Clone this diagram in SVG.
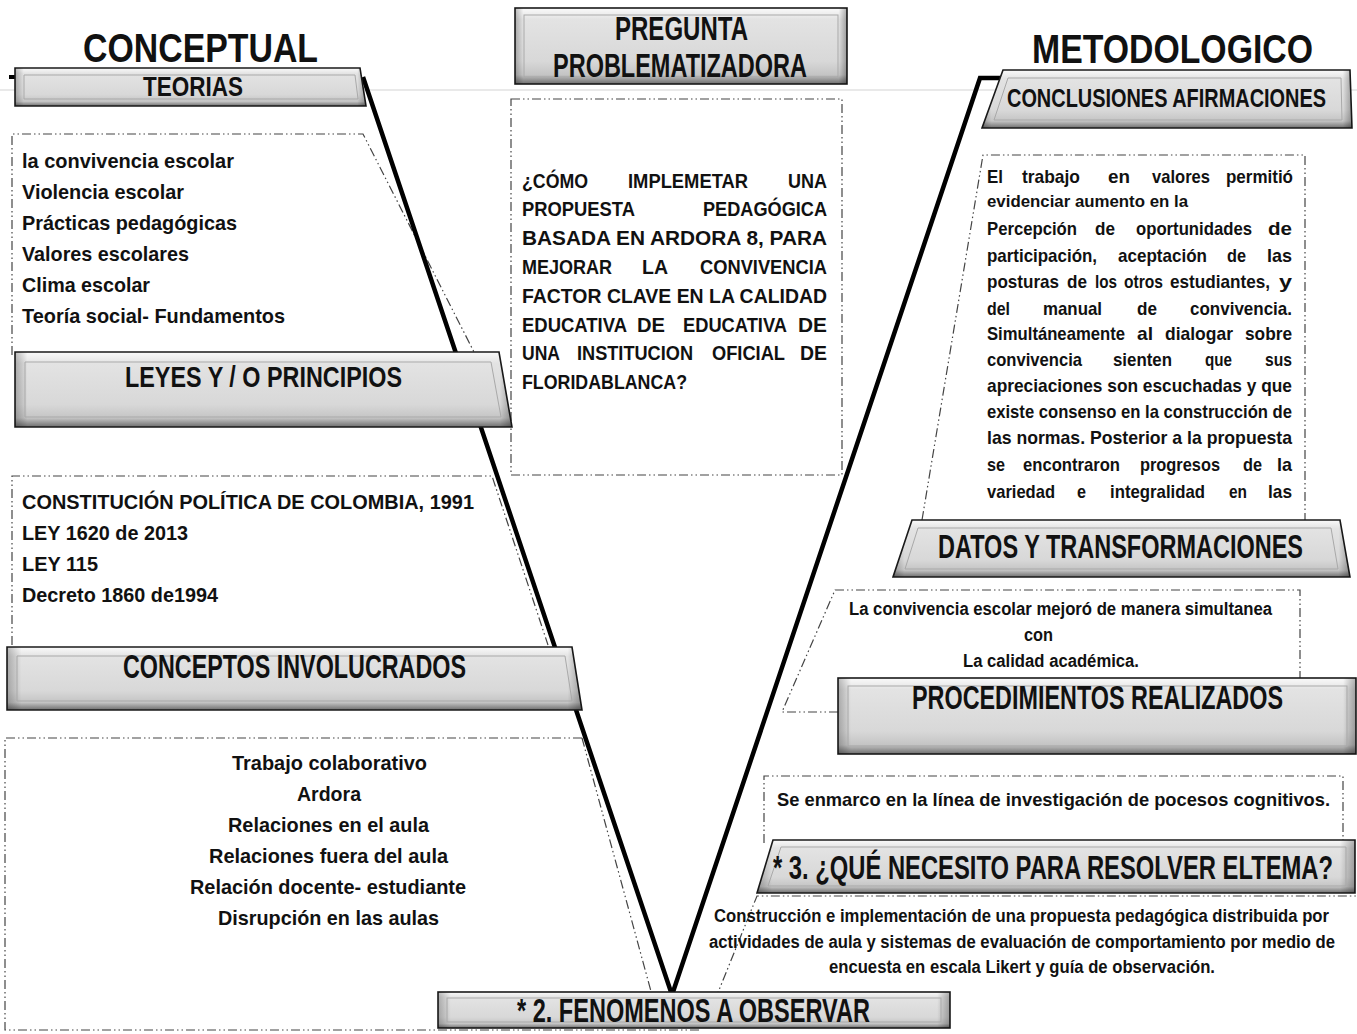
<svg xmlns="http://www.w3.org/2000/svg" width="1357" height="1034" viewBox="0 0 1357 1034">
<defs>
<linearGradient id="g" x1="0" y1="0" x2="0" y2="1">
<stop offset="0" stop-color="#fafafa"/>
<stop offset="0.15" stop-color="#e3e3e3"/>
<stop offset="0.7" stop-color="#d8d8d8"/>
<stop offset="0.88" stop-color="#c4c4c4"/>
<stop offset="1" stop-color="#6e6e6e"/>
</linearGradient>
<linearGradient id="gs" x1="0" y1="0" x2="1" y2="0">
<stop offset="0" stop-color="#000" stop-opacity="0.25"/>
<stop offset="0.025" stop-color="#000" stop-opacity="0"/>
<stop offset="0.975" stop-color="#000" stop-opacity="0"/>
<stop offset="1" stop-color="#000" stop-opacity="0.3"/>
</linearGradient>
</defs>
<style>
.hb{fill:url(#g);stroke:#1a1a1a;stroke-width:1.6}
.hs{fill:url(#gs);stroke:none}
.hi{fill:none;stroke:#a9a9a9;stroke-width:1}
.d{fill:none;stroke:#444;stroke-width:1.2;stroke-dasharray:9 3 1.5 3 1.5 3}
.v{fill:none;stroke:#000;stroke-width:4.5;stroke-linejoin:miter}
text{font-family:"Liberation Sans Narrow","Arial Narrow","Liberation Sans",Arial,sans-serif;font-weight:bold;fill:#111}
.t40{font-size:40px}.t33{font-size:33px}.t30{font-size:30px}.t27{font-size:27px}.t25{font-size:25px}
.t21{font-size:21px}.t19{font-size:19px}.t18{font-size:17.5px}.t17{font-size:17px}
</style>
<rect x="0" y="0" width="1357" height="1034" fill="#fff"/>
<line x1="0" y1="90" x2="1357" y2="90" stroke="#e9e9e9" stroke-width="2"/>

<g id="dashed-boxes">
<path class="d" d="M12,355 L12,134 L363,134 L474,352"/>
<path class="d" d="M12,645 L12,476 L492,476 L548,645"/>
<path class="d" d="M582,738 L5,738 L5,1030 L700,1030"/>
<path class="d" d="M582,738 L652,995"/>
<rect class="d" x="511" y="99" width="331" height="376"/>
<path class="d" d="M922,520 L983,155 L1305,155 L1305,520"/>
<path class="d" d="M838,712 L782,712 L835,590 L1300,590 L1300,678"/>
<path class="d" d="M764,843 L764,776 L1343,776 L1343,843"/>
<path class="d" d="M715,1000 L757,896 L1357,896"/>
</g>

<g id="connectors">
<line x1="9" y1="77" x2="17" y2="77" stroke="#000" stroke-width="4"/>
<polyline class="v" points="363,77 672,995 980,78 1003,78"/>
</g>

<g id="title-conceptual">
<text class="t40" x="83" y="62" textLength="235" lengthAdjust="spacingAndGlyphs">CONCEPTUAL</text>
</g>
<g id="title-metodologico">
<text class="t40" x="1032" y="63" textLength="281" lengthAdjust="spacingAndGlyphs">METODOLOGICO</text>
</g>

<g id="teorias">
<polygon class="hb" points="15,68 360,68 366,106 15,106"/>
<polygon class="hs" points="15,68 360,68 366,106 15,106"/>
<polygon class="hi" points="24,75 355,75 358,99 24,99"/>
<text class="t27" x="143" y="96" textLength="100" lengthAdjust="spacingAndGlyphs">TEORIAS</text>
</g>

<g id="pregunta">
<rect class="hb" x="515" y="8" width="332" height="76"/>
<rect class="hs" x="515" y="8" width="332" height="76"/>
<rect class="hi" x="524" y="15" width="314" height="62"/>
<text class="t33" x="615" y="40" textLength="133" lengthAdjust="spacingAndGlyphs">PREGUNTA</text>
<text class="t33" x="553" y="77" textLength="254" lengthAdjust="spacingAndGlyphs">PROBLEMATIZADORA</text>
</g>

<g id="conclusiones">
<polygon class="hb" points="1003,70 1350,70 1352,128 982,128"/>
<polygon class="hs" points="1003,70 1350,70 1352,128 982,128"/>
<polygon class="hi" points="1008,78 1341,78 1342,120 994,120"/>
<text class="t25" x="1007" y="107" textLength="319" lengthAdjust="spacingAndGlyphs">CONCLUSIONES AFIRMACIONES</text>
</g>

<g id="teorias-contenido" class="t21">
<text x="22" y="168" textLength="212" lengthAdjust="spacingAndGlyphs">la convivencia escolar</text>
<text x="22" y="199" textLength="162" lengthAdjust="spacingAndGlyphs">Violencia escolar</text>
<text x="22" y="230" textLength="215" lengthAdjust="spacingAndGlyphs">Prácticas pedagógicas</text>
<text x="22" y="261" textLength="167" lengthAdjust="spacingAndGlyphs">Valores escolares</text>
<text x="22" y="292" textLength="128" lengthAdjust="spacingAndGlyphs">Clima escolar</text>
<text x="22" y="323" textLength="263" lengthAdjust="spacingAndGlyphs">Teoría social- Fundamentos</text>
</g>

<g id="leyes">
<polygon class="hb" points="15,352 499,352 512,427 15,427"/>
<polygon class="hs" points="15,352 499,352 512,427 15,427"/>
<polygon class="hi" points="25,362 491,362 501,417 25,417"/>
<text class="t30" x="125" y="387" textLength="277" lengthAdjust="spacingAndGlyphs">LEYES Y / O PRINCIPIOS</text>
</g>

<g id="leyes-contenido" class="t21">
<text x="22" y="509" textLength="452" lengthAdjust="spacingAndGlyphs">CONSTITUCIÓN POLÍTICA DE COLOMBIA, 1991</text>
<text x="22" y="540" textLength="166" lengthAdjust="spacingAndGlyphs">LEY 1620 de 2013</text>
<text x="22" y="571" textLength="76" lengthAdjust="spacingAndGlyphs">LEY 115</text>
<text x="22" y="602" textLength="196" lengthAdjust="spacingAndGlyphs">Decreto 1860 de1994</text>
</g>

<g id="conceptos">
<polygon class="hb" points="7,647 572,647 582,710 7,710"/>
<polygon class="hs" points="7,647 572,647 582,710 7,710"/>
<polygon class="hi" points="17,656 565,656 572,701 17,701"/>
<text class="t33" x="123" y="678" textLength="343" lengthAdjust="spacingAndGlyphs">CONCEPTOS INVOLUCRADOS</text>
</g>

<g id="conceptos-contenido" class="t21">
<text x="232" y="770" textLength="195" lengthAdjust="spacingAndGlyphs">Trabajo colaborativo</text>
<text x="297" y="801" textLength="64" lengthAdjust="spacingAndGlyphs">Ardora</text>
<text x="228" y="832" textLength="201" lengthAdjust="spacingAndGlyphs">Relaciones en el aula</text>
<text x="209" y="863" textLength="239" lengthAdjust="spacingAndGlyphs">Relaciones fuera del aula</text>
<text x="190" y="894" textLength="276" lengthAdjust="spacingAndGlyphs">Relación docente- estudiante</text>
<text x="218" y="925" textLength="221" lengthAdjust="spacingAndGlyphs">Disrupción en las aulas</text>
</g>

<g id="fenomenos">
<rect class="hb" x="438" y="992" width="512" height="36"/>
<rect class="hs" x="438" y="992" width="512" height="36"/>
<rect class="hi" x="447" y="998" width="494" height="24"/>
<text class="t33" x="517" y="1022" textLength="353" lengthAdjust="spacingAndGlyphs">* 2. FENOMENOS A OBSERVAR</text>
</g>

<g id="pregunta-contenido" class="t21">
<text x="522" y="188" textLength="66" lengthAdjust="spacingAndGlyphs">¿CÓMO</text>
<text x="628" y="188" textLength="120" lengthAdjust="spacingAndGlyphs">IMPLEMETAR</text>
<text x="788" y="188" textLength="39" lengthAdjust="spacingAndGlyphs">UNA</text>
<text x="522" y="216" textLength="113" lengthAdjust="spacingAndGlyphs">PROPUESTA</text>
<text x="703" y="216" textLength="124" lengthAdjust="spacingAndGlyphs">PEDAGÓGICA</text>
<text x="522" y="245" textLength="305" lengthAdjust="spacingAndGlyphs">BASADA EN ARDORA 8, PARA</text>
<text x="522" y="274" textLength="90" lengthAdjust="spacingAndGlyphs">MEJORAR</text>
<text x="642" y="274" textLength="26" lengthAdjust="spacingAndGlyphs">LA</text>
<text x="700" y="274" textLength="127" lengthAdjust="spacingAndGlyphs">CONVIVENCIA</text>
<text x="522" y="303" textLength="305" lengthAdjust="spacingAndGlyphs">FACTOR CLAVE EN LA CALIDAD</text>
<text x="522" y="332" textLength="105" lengthAdjust="spacingAndGlyphs">EDUCATIVA</text>
<text x="637" y="332" textLength="28" lengthAdjust="spacingAndGlyphs">DE</text>
<text x="683" y="332" textLength="104" lengthAdjust="spacingAndGlyphs">EDUCATIVA</text>
<text x="798" y="332" textLength="29" lengthAdjust="spacingAndGlyphs">DE</text>
<text x="522" y="360" textLength="38" lengthAdjust="spacingAndGlyphs">UNA</text>
<text x="577" y="360" textLength="116" lengthAdjust="spacingAndGlyphs">INSTITUCION</text>
<text x="712" y="360" textLength="73" lengthAdjust="spacingAndGlyphs">OFICIAL</text>
<text x="800" y="360" textLength="27" lengthAdjust="spacingAndGlyphs">DE</text>
<text x="522" y="389" textLength="165" lengthAdjust="spacingAndGlyphs">FLORIDABLANCA?</text>
</g>

<g id="conclusiones-contenido" class="t19">
<text x="987" y="183" textLength="16" lengthAdjust="spacingAndGlyphs">El</text>
<text x="1022" y="183" textLength="58" lengthAdjust="spacingAndGlyphs">trabajo</text>
<text x="1108" y="183" textLength="22" lengthAdjust="spacingAndGlyphs">en</text>
<text x="1152" y="183" textLength="58" lengthAdjust="spacingAndGlyphs">valores</text>
<text x="1226" y="183" textLength="67" lengthAdjust="spacingAndGlyphs">permitió</text>
<text class="t17" x="987" y="207" textLength="201" lengthAdjust="spacingAndGlyphs">evidenciar aumento en la</text>
<text x="987" y="235" textLength="90" lengthAdjust="spacingAndGlyphs">Percepción</text>
<text x="1095" y="235" textLength="20" lengthAdjust="spacingAndGlyphs">de</text>
<text x="1136" y="235" textLength="116" lengthAdjust="spacingAndGlyphs">oportunidades</text>
<text x="1268" y="235" textLength="24" lengthAdjust="spacingAndGlyphs">de</text>
<text x="987" y="262" textLength="110" lengthAdjust="spacingAndGlyphs">participación,</text>
<text x="1118" y="262" textLength="89" lengthAdjust="spacingAndGlyphs">aceptación</text>
<text x="1227" y="262" textLength="19" lengthAdjust="spacingAndGlyphs">de</text>
<text x="1267" y="262" textLength="25" lengthAdjust="spacingAndGlyphs">las</text>
<text x="987" y="288" textLength="72" lengthAdjust="spacingAndGlyphs">posturas</text>
<text x="1067" y="288" textLength="20" lengthAdjust="spacingAndGlyphs">de</text>
<text x="1095" y="288" textLength="22" lengthAdjust="spacingAndGlyphs">los</text>
<text x="1124" y="288" textLength="39" lengthAdjust="spacingAndGlyphs">otros</text>
<text x="1170" y="288" textLength="100" lengthAdjust="spacingAndGlyphs">estudiantes,</text>
<text x="1279" y="288" textLength="13" lengthAdjust="spacingAndGlyphs">y</text>
<text x="987" y="315" textLength="23" lengthAdjust="spacingAndGlyphs">del</text>
<text x="1043" y="315" textLength="59" lengthAdjust="spacingAndGlyphs">manual</text>
<text x="1137" y="315" textLength="20" lengthAdjust="spacingAndGlyphs">de</text>
<text x="1190" y="315" textLength="102" lengthAdjust="spacingAndGlyphs">convivencia.</text>
<text x="987" y="340" textLength="138" lengthAdjust="spacingAndGlyphs">Simultáneamente</text>
<text x="1137" y="340" textLength="16" lengthAdjust="spacingAndGlyphs">al</text>
<text x="1165" y="340" textLength="68" lengthAdjust="spacingAndGlyphs">dialogar</text>
<text x="1245" y="340" textLength="47" lengthAdjust="spacingAndGlyphs">sobre</text>
<text x="987" y="366" textLength="95" lengthAdjust="spacingAndGlyphs">convivencia</text>
<text x="1113" y="366" textLength="59" lengthAdjust="spacingAndGlyphs">sienten</text>
<text x="1205" y="366" textLength="27" lengthAdjust="spacingAndGlyphs">que</text>
<text x="1265" y="366" textLength="27" lengthAdjust="spacingAndGlyphs">sus</text>
<text x="987" y="392" textLength="305" lengthAdjust="spacingAndGlyphs">apreciaciones son escuchadas y que</text>
<text x="987" y="418" textLength="305" lengthAdjust="spacingAndGlyphs">existe consenso en la construcción de</text>
<text x="987" y="444" textLength="305" lengthAdjust="spacingAndGlyphs">las normas. Posterior a la propuesta</text>
<text x="987" y="471" textLength="18" lengthAdjust="spacingAndGlyphs">se</text>
<text x="1023" y="471" textLength="97" lengthAdjust="spacingAndGlyphs">encontraron</text>
<text x="1140" y="471" textLength="80" lengthAdjust="spacingAndGlyphs">progresos</text>
<text x="1243" y="471" textLength="19" lengthAdjust="spacingAndGlyphs">de</text>
<text x="1277" y="471" textLength="15" lengthAdjust="spacingAndGlyphs">la</text>
<text x="987" y="498" textLength="68" lengthAdjust="spacingAndGlyphs">variedad</text>
<text x="1077" y="498" textLength="9" lengthAdjust="spacingAndGlyphs">e</text>
<text x="1110" y="498" textLength="95" lengthAdjust="spacingAndGlyphs">integralidad</text>
<text x="1229" y="498" textLength="18" lengthAdjust="spacingAndGlyphs">en</text>
<text x="1268" y="498" textLength="24" lengthAdjust="spacingAndGlyphs">las</text>
</g>

<g id="datos">
<polygon class="hb" points="912,520 1340,520 1350,577 893,577"/>
<polygon class="hs" points="912,520 1340,520 1350,577 893,577"/>
<polygon class="hi" points="918,528 1331,528 1338,569 905,569"/>
<text class="t33" x="938" y="558" textLength="365" lengthAdjust="spacingAndGlyphs">DATOS Y TRANSFORMACIONES</text>
</g>

<g id="datos-contenido" class="t18">
<text x="849" y="615" textLength="423" lengthAdjust="spacingAndGlyphs">La convivencia escolar mejoró de manera simultanea</text>
<text x="1024" y="641" textLength="29" lengthAdjust="spacingAndGlyphs">con</text>
<text x="963" y="667" textLength="176" lengthAdjust="spacingAndGlyphs">La calidad académica.</text>
</g>

<g id="procedimientos">
<rect class="hb" x="838" y="678" width="518" height="76"/>
<rect class="hs" x="838" y="678" width="518" height="76"/>
<rect class="hi" x="848" y="686" width="499" height="60"/>
<text class="t33" x="912" y="709" textLength="371" lengthAdjust="spacingAndGlyphs">PROCEDIMIENTOS REALIZADOS</text>
</g>

<g id="procedimientos-contenido">
<text class="t19" x="777" y="806" textLength="553" lengthAdjust="spacingAndGlyphs">Se enmarco en la línea de investigación de pocesos cognitivos.</text>
</g>

<g id="que-necesito">
<polygon class="hb" points="773,840 1355,840 1355,893 757,893"/>
<polygon class="hs" points="773,840 1355,840 1355,893 757,893"/>
<polygon class="hi" points="781,847 1346,847 1346,886 768,886"/>
<text class="t33" x="773" y="879" textLength="560" lengthAdjust="spacingAndGlyphs">* 3. ¿QUÉ NECESITO PARA RESOLVER ELTEMA?</text>
</g>

<g id="que-necesito-contenido" class="t18">
<text x="714" y="922" textLength="615" lengthAdjust="spacingAndGlyphs">Construcción e implementación de una propuesta pedagógica distribuida por</text>
<text x="709" y="948" textLength="626" lengthAdjust="spacingAndGlyphs">actividades de aula y sistemas de evaluación de comportamiento por medio de</text>
<text x="829" y="973" textLength="386" lengthAdjust="spacingAndGlyphs">encuesta en escala Likert y guía de observación.</text>
</g>
</svg>
